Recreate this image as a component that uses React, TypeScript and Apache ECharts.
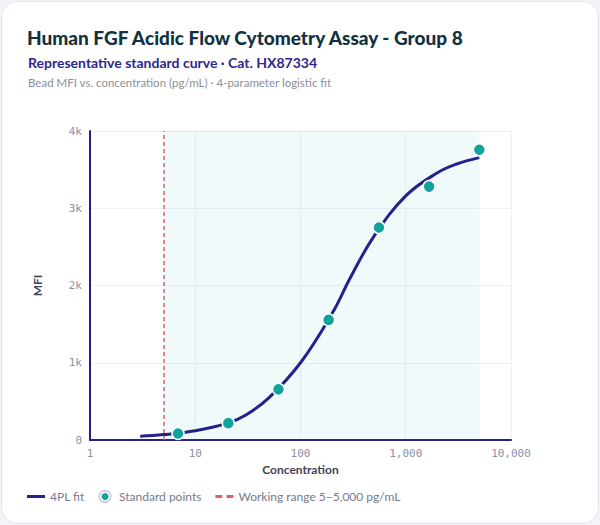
import * as echarts from 'echarts';
import { useEffect, useRef } from 'react';

const titleText = 'Human FGF Acidic Flow Cytometry Assay - Group 8';
const subtitleText = 'Representative standard curve · Cat. HX87334';
const noteText = 'Bead MFI vs. concentration (pg/mL) · 4-parameter logistic fit';

const fitName = '4PL fit';
const pointsName = 'Standard points';
const rangeName = 'Working range 5–5,000 pg/mL';

// 4PL curve: [concentration pg/mL, MFI]
const fitCurve: [number, number][] = [
  [3, 48],
  [5, 70],
  [10, 120],
  [20, 215],
  [30, 320],
  [50, 545],
  [100, 1000],
  [200, 1640],
  [300, 2110],
  [500, 2640],
  [1000, 3160],
  [2000, 3460],
  [3000, 3570],
  [5000, 3655],
];

// 3-fold dilution standards
const standardConc = [6.86, 20.6, 61.7, 185, 556, 1667, 5000];
const standardMfi = [85, 218, 656, 1555, 2750, 3280, 3758];

const rangeLow = 5;
const rangeHigh = 5000;

const yTicks = [0, 1000, 2000, 3000, 4000];

const font = "Lato, 'Noto Sans', sans-serif";
const mono = "'DejaVu Sans Mono', monospace";
const navy = '#23218c';
const teal = '#0fa39b';
const red = '#e0606a';

function buildOption() {
  return {
    animation: false,
    textStyle: { fontFamily: font },
    title: [
      {
        text: titleText,
        left: 22,
        top: 23,
        textStyle: { fontSize: 19, fontWeight: 900, color: '#12323f', fontFamily: font },
      },
      {
        text: subtitleText,
        left: 23,
        top: 50,
        textStyle: { fontSize: 14, fontWeight: 700, color: '#2a288e', fontFamily: font },
      },
      {
        text: noteText,
        left: 23,
        top: 71,
        textStyle: { fontSize: 11.5, fontWeight: 400, color: '#8b9099', fontFamily: font },
      },
    ],
    legend: {
      left: 22,
      top: 485,
      itemWidth: 18,
      itemHeight: 10,
      itemGap: 14,
      textStyle: { fontSize: 12, color: '#757b8b', fontFamily: font },
      data: [
        { name: fitName, icon: 'path://M0,0H18V3H0Z' },
        {
          name: pointsName,
          icon: 'circle',
          itemStyle: {
            color: teal,
            borderWidth: 3,
            borderColor: {
              type: 'radial',
              x: 0.5,
              y: 0.5,
              r: 0.5,
              colorStops: [
                { offset: 0, color: '#ffffff' },
                { offset: 0.96, color: '#ffffff' },
                { offset: 1, color: '#c9ced8' },
              ],
            },
          },
        },
        { name: rangeName, icon: 'path://M0,0H5V2H0Z M8,0H13V2H8Z' },
      ],
    },
    grid: { left: 90, right: 89, top: 131, bottom: 85 },
    xAxis: {
      type: 'log',
      logBase: 10,
      min: 1,
      max: 10000,
      name: 'Concentration',
      nameLocation: 'middle',
      nameGap: 21,
      nameTextStyle: { fontSize: 12, fontWeight: 700, color: '#3f4452', fontFamily: font },
      axisLine: { lineStyle: { color: navy, width: 2 } },
      axisTick: { show: false },
      axisLabel: {
        color: '#8a90a6',
        fontFamily: mono,
        fontSize: 11,
        margin: 8,
        formatter: (v: number) => Number(v).toLocaleString('en-US'),
      },
      splitLine: { show: true, lineStyle: { color: '#eef0f5', width: 1 } },
    },
    yAxis: {
      type: 'value',
      min: 0,
      max: yTicks[yTicks.length - 1],
      interval: 1000,
      name: 'MFI',
      nameLocation: 'middle',
      nameGap: 47,
      nameTextStyle: { fontSize: 12, fontWeight: 700, color: '#3f4452', fontFamily: font },
      axisLine: { show: true, lineStyle: { color: navy, width: 2 } },
      axisTick: { show: false },
      axisLabel: {
        color: '#8a90a6',
        fontFamily: mono,
        fontSize: 11,
        margin: 8,
        formatter: (v: number) => (v === 0 ? '0' : `${v / 1000}k`),
      },
      splitLine: { show: true, lineStyle: { color: '#eef0f5', width: 1 } },
    },
    series: [
      {
        name: rangeName,
        type: 'line',
        symbol: 'none',
        data: [],
        lineStyle: { color: red, type: 'dashed', width: 1.5 },
        itemStyle: { color: red },
        markArea: {
          silent: true,
          itemStyle: { color: 'rgba(70,190,205,0.08)' },
          data: [[{ xAxis: rangeLow }, { xAxis: rangeHigh }]],
        },
        markLine: {
          silent: true,
          symbol: 'none',
          label: { show: false },
          lineStyle: { color: red, type: [4, 3], width: 1.5 },
          data: [{ xAxis: rangeLow }],
        },
        z: 1,
      },
      {
        name: fitName,
        type: 'line',
        smooth: 0.4,
        symbol: 'none',
        data: fitCurve,
        lineStyle: { color: navy, width: 3 },
        itemStyle: { color: navy },
        z: 3,
      },
      {
        name: pointsName,
        type: 'scatter',
        symbol: 'circle',
        symbolSize: 12,
        data: standardConc.map((c, i) => [c, standardMfi[i]]),
        itemStyle: { color: teal, borderColor: '#fff', borderWidth: 1.5, opacity: 1 },
        z: 4,
      },
    ],
  };
}

export default function App() {
  const ref = useRef<HTMLDivElement | null>(null);

  useEffect(() => {
    if (!ref.current) return;
    const chart = echarts.init(ref.current, undefined, { renderer: 'svg' });
    chart.setOption(buildOption());
    return () => chart.dispose();
  }, []);

  return (
    <div style={{ position: 'fixed', inset: 0, background: '#f3f4f7' }}>
      <div
        style={{
          position: 'absolute',
          left: 1,
          top: 1,
          right: 1,
          bottom: 1,
          background: '#fff',
          border: '1px solid #e2e5ec',
          borderRadius: 16,
          boxSizing: 'border-box',
        }}
      />
      <div ref={ref} style={{ position: 'absolute', left: 0, top: 0, width: 600, height: 525 }} />
    </div>
  );
}
